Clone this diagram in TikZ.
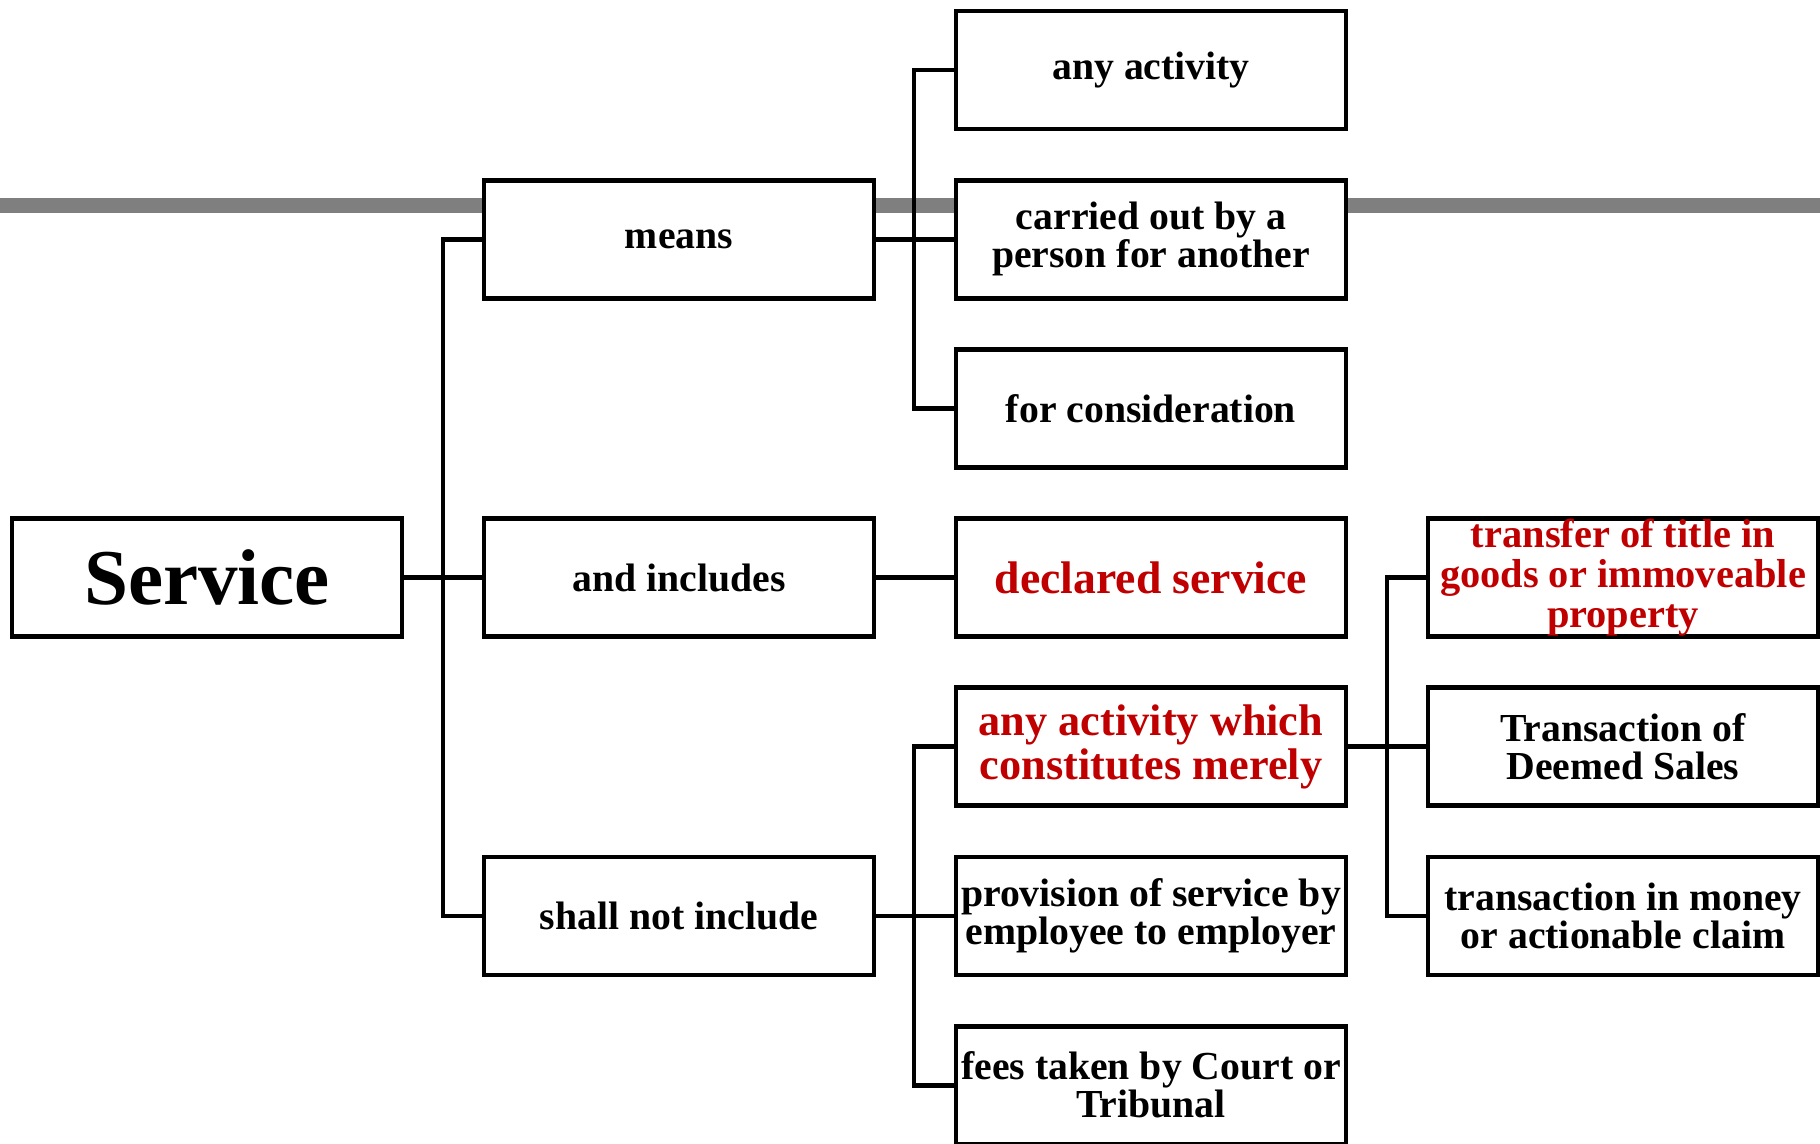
\documentclass[tikz,border=0pt]{standalone}
\usepackage{fontspec}
\setmainfont{Liberation Serif}
\definecolor{rulegray}{RGB}{127,127,127}
\definecolor{darkred}{RGB}{192,0,0}
\begin{document}
\begin{tikzpicture}[inner sep=0pt,outer sep=0pt,line width=1.35pt,
box/.style={draw,rectangle,fill=white,align=center,minimum width=3.9cm,minimum height=1.18cm,line width=1.35pt,
  font=\bfseries\fontsize{11.3}{10.8}\selectfont},
redtext/.style={text=darkred,font=\bfseries\fontsize{12.6}{12.5}\selectfont}]
\useasboundingbox (0,0) rectangle (18.2,-11.44);
\draw[line width=0.15cm,rulegray] (0,-2.055) -- (18.2,-2.055);
% left column
\draw (2.07,-5.776) node[box,font=\bfseries\fontsize{22.5}{24}\selectfont] (service) {Service};
\draw (6.79,-2.392) node[box] (means) {means};
\draw (6.79,-5.776) node[box] (incl) {and includes};
\draw (6.79,-9.16) node[box] (notinc) {shall not include};
% middle column
\draw (11.51,-0.70) node[box] (anyact) {any activity};
\draw (11.51,-2.392) node[box] (carried) {carried out by a\\person for another};
\draw (11.51,-4.084) node[box] (consid) {for consideration};
\draw (11.51,-5.776) node[box,redtext,font=\bfseries\fontsize{13}{14}\selectfont] (declared) {declared service};
\draw (11.51,-7.468) node[box,redtext] (merely) {any activity which\\constitutes merely};
\draw (11.51,-9.16) node[box] (provision) {provision of service by\\employee to employer};
\draw (11.51,-10.852) node[box] (fees) {fees taken by Court or\\Tribunal};
% right column
\draw (16.23,-5.776) node[box,redtext,font=\bfseries\fontsize{11.5}{11.4}\selectfont] (transfer) {transfer of title in\\goods or immoveable\\property};
\draw (16.23,-7.468) node[box] (deemed) {Transaction of\\Deemed Sales};
\draw (16.23,-9.16) node[box] (money) {transaction in money\\or actionable claim};
% trunks
\coordinate (tA) at (4.43,-5.776);
\coordinate (tB) at (9.14,-2.392);
\coordinate (tC) at (9.14,-9.16);
\coordinate (tD) at (13.87,-7.468);
\draw (service) -- (incl);
\draw (means.west) -| (tA) |- (notinc.west);
\draw (means) -- (carried);
\draw (anyact.west) -| (tB) |- (consid.west);
\draw (incl) -- (declared);
\draw (notinc) -- (provision);
\draw (merely.west) -| (tC) |- (fees.west);
\draw (merely) -- (deemed);
\draw (transfer.west) -| (tD) |- (money.west);
\end{tikzpicture}
\end{document}
